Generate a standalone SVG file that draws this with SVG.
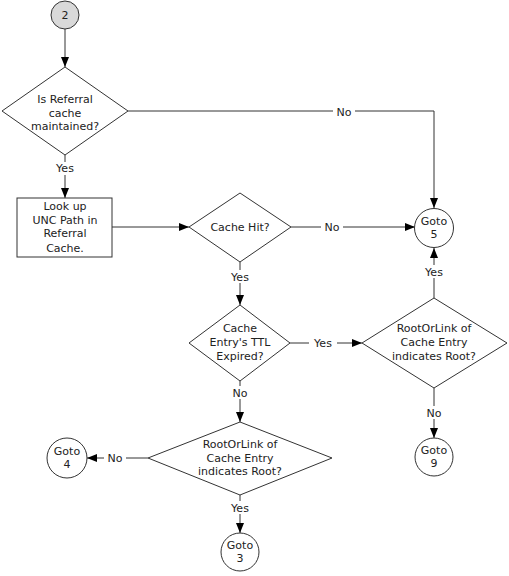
<svg xmlns="http://www.w3.org/2000/svg" width="509" height="576" viewBox="0 0 509 576">
<defs>
<marker id="ah" markerWidth="10" markerHeight="8" refX="10" refY="4" orient="auto" markerUnits="userSpaceOnUse">
<path d="M0,0 L10,4 L0,8 Z" fill="#000"/>
</marker>
<style>
.s{fill:#fff;stroke:#333;stroke-width:1}
.c{fill:none;stroke:#333;stroke-width:1;marker-end:url(#ah)}
text{font-family:"DejaVu Sans",Verdana,sans-serif;font-size:11px;fill:#222;text-anchor:middle}
.bg{fill:#fff}
</style>
</defs>
<rect width="509" height="576" fill="#fff"/>
<g id="connectors">
<path class="c" d="M65,29 V67"/>
<path class="c" d="M128,111 H434 V208"/>
<path class="c" d="M65,155 V198"/>
<path class="c" d="M112,227 H189"/>
<path class="c" d="M291,227 H415"/>
<path class="c" d="M240,262 V305"/>
<path class="c" d="M290,343 H362"/>
<path class="c" d="M434,298 V248"/>
<path class="c" d="M434,388 V438"/>
<path class="c" d="M240,381 V422"/>
<path class="c" d="M148,458 H87"/>
<path class="c" d="M240,495 V533"/>
<rect class="bg" x="333" y="105" width="22" height="13"/><text x="344" y="116">No</text>
<rect class="bg" x="51" y="162" width="28" height="13"/><text x="65" y="172">Yes</text>
<rect class="bg" x="321" y="221" width="22" height="13"/><text x="332" y="231">No</text>
<rect class="bg" x="226" y="270" width="28" height="13"/><text x="240" y="281">Yes</text>
<rect class="bg" x="309" y="337" width="28" height="13"/><text x="323" y="347">Yes</text>
<rect class="bg" x="420" y="265" width="28" height="13"/><text x="434" y="276">Yes</text>
<rect class="bg" x="423" y="406" width="22" height="13"/><text x="434" y="417">No</text>
<rect class="bg" x="229" y="386" width="22" height="13"/><text x="240" y="397">No</text>
<rect class="bg" x="104" y="452" width="22" height="13"/><text x="115" y="462">No</text>
<rect class="bg" x="226" y="501" width="28" height="13"/><text x="240" y="512">Yes</text>
</g>
<g id="start2">
<circle cx="65" cy="15" r="14" fill="#d9d9d9" stroke="#333"/>
<text x="65" y="19">2</text>
</g>
<g id="d_maintained">
<polygon class="s" points="65,67 128,111 65,155 2,111"/>
<text x="65" y="103">Is Referral</text>
<text x="65" y="117">cache</text>
<text x="65" y="130">maintained?</text>
</g>
<g id="lookup">
<rect class="s" x="17" y="198" width="95" height="59"/>
<text x="65" y="210">Look up</text>
<text x="65" y="224">UNC Path in</text>
<text x="65" y="237">Referral</text>
<text x="65" y="252">Cache.</text>
</g>
<g id="d_cachehit">
<polygon class="s" points="240,193 291,227 240,262 189,227"/>
<text x="240" y="231">Cache Hit?</text>
</g>
<g id="goto5">
<circle class="s" cx="434" cy="228" r="19.5"/>
<text x="434" y="225">Goto</text>
<text x="434" y="238">5</text>
</g>
<g id="d_ttl">
<polygon class="s" points="240,305 290,343 240,381 189,343"/>
<text x="240" y="332">Cache</text>
<text x="240" y="346">Entry's TTL</text>
<text x="240" y="360">Expired?</text>
</g>
<g id="d_root1">
<polygon class="s" points="434,298 507,343 434,388 362,343"/>
<text x="434" y="332">RootOrLink of</text>
<text x="434" y="346">Cache Entry</text>
<text x="434" y="360">indicates Root?</text>
</g>
<g id="goto9">
<circle class="s" cx="434" cy="457" r="19"/>
<text x="434" y="454">Goto</text>
<text x="434" y="467">9</text>
</g>
<g id="d_root2">
<polygon class="s" points="240,422 332,458 240,495 148,458"/>
<text x="240" y="448">RootOrLink of</text>
<text x="240" y="462">Cache Entry</text>
<text x="240" y="475">indicates Root?</text>
</g>
<g id="goto4">
<circle class="s" cx="67" cy="458" r="20"/>
<text x="67" y="455">Goto</text>
<text x="67" y="468">4</text>
</g>
<g id="goto3">
<circle class="s" cx="240" cy="552" r="19"/>
<text x="240" y="549">Goto</text>
<text x="240" y="562">3</text>
</g>
</svg>
